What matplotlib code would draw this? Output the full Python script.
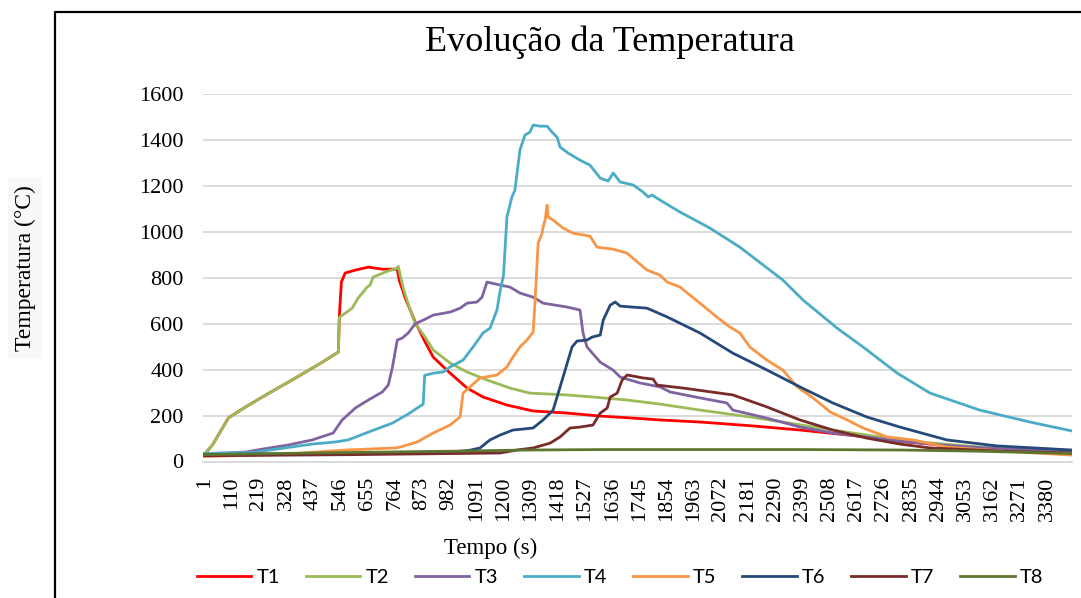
import matplotlib
matplotlib.use("Agg")
import matplotlib.pyplot as plt
from matplotlib.lines import Line2D

# temperature readings (s, °C) for each thermocouple
t1_time = [1, 33, 97, 165, 233, 366, 474, 538, 542, 550, 565, 606, 658, 714, 774, 782, 806, 846, 886, 918,
           986, 1054, 1118, 1214, 1319, 1455, 1588, 1720, 1828, 1989, 2200, 2390, 2630, 2790, 2950, 3110, 3300, 3480]
t1_temp = [32, 72, 190, 237, 281, 364, 433, 477, 640, 782, 821, 834, 847, 838, 838, 790, 712, 608, 520, 455,
           385, 320, 281, 246, 220, 211, 198, 189, 181, 172, 155, 137, 110, 88, 72, 60, 50, 42]

t2_time = [1, 33, 97, 165, 233, 366, 474, 538, 542, 565, 593, 617, 637, 653, 665, 677, 725, 774, 778, 798,
           820, 846, 886, 918, 986, 1054, 1134, 1226, 1306, 1455, 1559, 1695, 1828, 1989, 2189, 2350, 2520,
           2710, 2900, 3110, 3300, 3480]
t2_temp = [32, 72, 190, 237, 281, 364, 433, 477, 629, 646, 668, 712, 738, 760, 769, 803, 825, 843, 850, 756,
           680, 600, 542, 486, 429, 390, 355, 320, 298, 290, 281, 268, 250, 224, 194, 167, 137,
           107, 82, 63, 52, 45]

t3_time = [1, 165, 233, 337, 433, 517, 553, 606, 658, 714, 738, 754, 774, 794, 818, 846, 886, 918, 986, 1026,
           1054, 1094, 1114, 1134, 1186, 1226, 1266, 1319, 1359, 1455, 1507, 1519, 1535, 1588, 1640, 1668,
           1748, 1828, 1868, 1989, 2096, 2120, 2256, 2390, 2520, 2790, 3000, 3200, 3480]
t3_temp = [33, 41, 54, 72, 94, 124, 181, 233, 268, 303, 333, 407, 529, 538, 560, 600, 620, 638, 651, 668,
           690, 695, 716, 782, 769, 760, 734, 716, 690, 673, 660, 560, 499, 433, 398, 368,
           342, 325, 303, 277, 255, 224, 189, 150, 124, 89, 68, 55, 45]

t4_time = [1, 200, 297, 433, 525, 577, 658, 754, 818, 878, 884, 918, 958, 986, 1038, 1078, 1118, 1146, 1174,
           1186, 1200, 1214, 1234, 1246, 1266, 1286, 1306, 1319, 1347, 1375, 1395, 1415, 1427, 1459, 1507,
           1547, 1588, 1620, 1640, 1668, 1720, 1760, 1780, 1796, 1840, 1908, 2028, 2148, 2320, 2402, 2538,
           2642, 2779, 2911, 3110, 3311, 3480]
t4_temp = [35, 40, 55, 76, 85, 94, 128, 167, 207, 250, 375, 385, 390, 412, 442, 499, 560, 581, 660,
           740, 810, 1066, 1153, 1183, 1357, 1422, 1435, 1466, 1461, 1461, 1435, 1413, 1370, 1344, 1313,
           1291, 1235, 1222, 1257, 1218, 1205, 1174, 1153, 1161, 1131, 1087, 1017, 934, 791, 703, 581,
           499, 385, 298, 224, 172, 133]

t5_time = [1, 300, 565, 766, 786, 854, 918, 986, 1026, 1038, 1066, 1106, 1174, 1214, 1238, 1266, 1294, 1319,
           1327, 1339, 1355, 1359, 1367, 1375, 1379, 1399, 1439, 1479, 1547, 1575, 1640, 1695, 1776, 1828,
           1856, 1908, 1988, 2056, 2108, 2148, 2188, 2256, 2320, 2378, 2442, 2510, 2578, 2642, 2738, 2842,
           2978, 3200, 3480]
t5_temp = [22, 30, 50, 59, 63, 85, 124, 159, 194, 298, 325, 364, 377, 412, 455, 499, 529, 564,
           703, 951, 995, 1022, 1052, 1117, 1065, 1052, 1017, 995, 982, 934, 925, 908, 834, 812,
           782, 760, 690, 629, 586, 560, 499, 442, 399, 325, 277, 216, 181, 146, 107, 94,
           63, 45, 28]

t6_time = [1, 500, 1000, 1060, 1106, 1146, 1186, 1238, 1319, 1359, 1399, 1439, 1475, 1495, 1535, 1555, 1588,
           1600, 1628, 1648, 1668, 1776, 1856, 1988, 2120, 2256, 2389, 2521, 2657, 2790, 2978, 3178, 3480]
t6_temp = [30, 35, 42, 48, 59, 94, 115, 137, 146, 181, 224, 368, 499, 525, 529, 542, 551,
           616, 681, 695, 677, 668, 630, 560, 472, 399, 325, 255, 194, 150, 94, 68, 50]

t7_time = [1, 600, 1186, 1254, 1319, 1387, 1427, 1467, 1507, 1559, 1588, 1616, 1628, 1656, 1676, 1696, 1760,
           1800, 1816, 1920, 2120, 2256, 2389, 2521, 2657, 2790, 2911, 3200, 3480]
t7_temp = [25, 30, 37, 50, 59, 80, 107, 146, 150, 159, 211, 233, 281, 298, 355, 377, 364,
           359, 333, 320, 290, 238, 181, 137, 102, 76, 59, 45, 37]

t8_time = [1, 500, 1000, 1300, 1600, 2000, 2400, 2800, 3100, 3480]
t8_temp = [30, 38, 45, 50, 52, 52, 52, 50, 45, 35]

series_names = ["T1", "T2", "T3", "T4", "T5", "T6", "T7", "T8"]
series_colors = ["#FF0000", "#9BBB59", "#8064A2", "#4BACC6", "#F79646", "#254A7A", "#772C2A", "#5E7530"]

x_ticks = [1, 110, 219, 328, 437, 546, 655, 764, 873, 982, 1091, 1200, 1309, 1418, 1527, 1636, 1745,
           1854, 1963, 2072, 2181, 2290, 2399, 2508, 2617, 2726, 2835, 2944, 3053, 3162, 3271, 3380]
y_ticks = [0, 200, 400, 600, 800, 1000, 1200, 1400, 1600]

serif = "Liberation Serif"

fig = plt.figure(figsize=(10.81, 5.98), dpi=100)
ax = fig.add_axes([203 / 1081, 1 - 461.5 / 598, 869 / 1081, 367.2 / 598])

data = [(t1_time, t1_temp), (t2_time, t2_temp), (t3_time, t3_temp), (t4_time, t4_temp),
        (t5_time, t5_temp), (t6_time, t6_temp), (t7_time, t7_temp), (t8_time, t8_temp)]
handles = []
for (tt, vv), name, col in zip(data, series_names, series_colors):
    h, = ax.plot(tt, vv, color=col, lw=2.0, label=name, solid_joinstyle="round")
    handles.append(h)

ax.set_xlim(-5, 3480)
ax.set_ylim(0, 1600)
ax.set_yticks(y_ticks)
ax.set_xticks(x_ticks)
ax.set_xticklabels([str(v) for v in x_ticks], rotation=90, fontfamily=serif, fontsize=16)
ax.set_yticklabels([str(v) for v in y_ticks], fontfamily=serif, fontsize=16)
ax.tick_params(axis="both", length=0)
ax.tick_params(axis="x", pad=11)
ax.tick_params(axis="y", pad=14)

ax.grid(axis="y", color="#D9D9D9", lw=1.3)
ax.set_axisbelow(True)
for s in ["top", "right", "left"]:
    ax.spines[s].set_visible(False)
ax.spines["bottom"].set_color("#D9D9D9")
ax.spines["bottom"].set_linewidth(1.3)

# chart frame (top and left edges)
fig.add_artist(Line2D([55 / 1081, 55 / 1081, 1.0], [0.0, 1 - 12 / 598, 1 - 12 / 598],
                      transform=fig.transFigure, color="black", lw=1.6))

fig.text(610 / 1081, 1 - 42 / 598, "Evolução da Temperatura", fontfamily=serif, fontsize=26,
         ha="center", va="center")
fig.text(491 / 1081, 1 - 548 / 598, "Tempo (s)", fontfamily=serif, fontsize=16.5,
         ha="center", va="center")
fig.text(25 / 1081, 1 - 268 / 598, "Temperatura (°C)", fontfamily=serif, fontsize=17,
         rotation=90, ha="center", va="center",
         bbox=dict(facecolor="#F8F8F8", edgecolor="none", pad=5))

fig.legend(handles=handles, loc="center left", bbox_to_anchor=(197 / 1081, 1 - 577 / 598),
           ncol=8, frameon=False, borderpad=0, borderaxespad=0,
           handlelength=2.7, handletextpad=0.25, columnspacing=1.3,
           prop={"family": "Lato", "size": 14.5})

fig.savefig("out.png", dpi=100)
